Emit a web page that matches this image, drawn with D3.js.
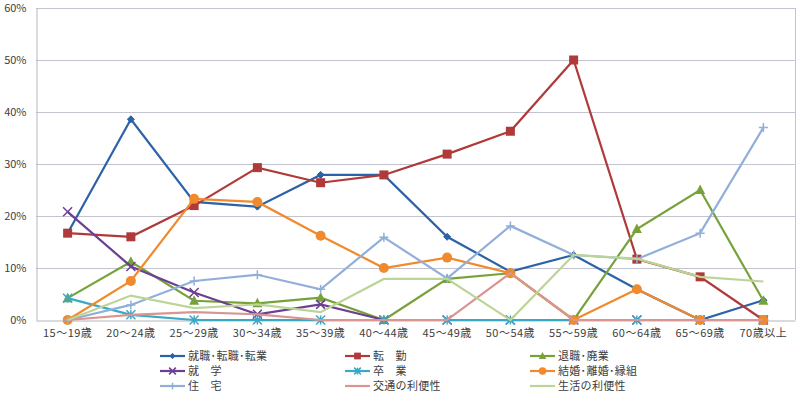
<!DOCTYPE html>
<html lang="ja">
<head>
<meta charset="UTF-8">
<title>移動理由別・年齢階級別割合</title>
<script src="https://d3js.org/d3.v7.min.js"></script>
<style>
  body { margin: 0; background: #fff; }
  svg text { font-family: "Noto Sans CJK JP", "Noto Sans", sans-serif; fill: #404040; }
  .grid line { stroke: #c4c4d0; stroke-width: 1; }
  .series path.line { fill: none; stroke-width: 2.2; }
</style>
</head>
<body>
<script>
  // categories
  const ages = ["15～19歳", "20～24歳", "25～29歳", "30～34歳", "35～39歳", "40～44歳",
    "45～49歳", "50～54歳", "55～59歳", "60～64歳", "65～69歳", "70歳以上"]
  const yTicks = [0, 10, 20, 30, 40, 50, 60]

  // series values (%)
  const shushoku = [16.7, 38.6, 22.7, 21.8, 27.9, 27.9, 16.0, 9.3, 12.5, 5.9, 0, 3.8]
  const tenkin = [16.7, 16.0, 22.0, 29.3, 26.4, 27.9, 31.9, 36.3, 50.0, 11.7, 8.3, 0]
  const taishoku = [4.2, 11.2, 3.7, 3.2, 4.3, 0, 7.9, 9.0, 0, 17.5, 25.0, 3.7]
  const shugaku = [20.8, 10.3, 5.3, 1.1, 3.0, 0, 0, 0, 0, 0, 0, 0]
  const sotsugyo = [4.2, 1.0, 0, 0, 0, 0, 0, 0, 0, 0, 0, 0]
  const kekkon = [0, 7.5, 23.3, 22.7, 16.2, 10.0, 12.0, 9.0, 0, 5.9, 0, 0]
  const jutaku = [0, 2.9, 7.5, 8.7, 5.9, 15.9, 8.0, 18.1, 12.5, 11.7, 16.7, 37.0]
  const kotsu = [0, 1.0, 1.5, 1.1, 0, 0, 0, 9.0, 0, 0, 0, 0]
  const seikatsu = [0, 4.7, 2.3, 3.0, 1.5, 7.9, 7.9, 0, 12.5, 11.8, 8.3, 7.4]

  const names = ["就職･転職･転業", "転　勤", "退職･廃業", "就　学", "卒　業",
    "結婚･離婚･縁組", "住　宅", "交通の利便性", "生活の利便性"]
  const colors = ["#2c62a6", "#b03a3a", "#77a23a", "#6c3f92", "#3aa9c6",
    "#f08a2c", "#91afd9", "#d99592", "#bcd597"]
  const markers = ["diamond", "square", "triangle", "x", "asterisk", "circle", "plus", null, null]

  const seriesList = [shushoku, tenkin, taishoku, shugaku, sotsugyo, kekkon, jutaku, kotsu, seikatsu]
    .map((values, i) => ({ name: names[i], color: colors[i], marker: markers[i], values }))

  const width = 800, height = 396
  const plot = { left: 36, right: 795, top: 8, bottom: 320 }

  const svg = d3.select("body").append("svg")
    .attr("width", width)
    .attr("height", height)

  const x = d3.scaleBand()
    .domain(ages)
    .range([plot.left, plot.right])

  const y = d3.scaleLinear()
    .domain([0, 60])
    .range([plot.bottom, plot.top])

  // grid lines
  svg.append("g").attr("class", "grid")
    .selectAll("line")
    .data(yTicks.filter(d => d > 0))
    .join("line")
    .attr("x1", plot.left)
    .attr("x2", plot.right)
    .attr("y1", d => Math.round(y(d)) + 0.5)
    .attr("y2", d => Math.round(y(d)) + 0.5)

  // right border of plot area
  svg.append("line")
    .attr("x1", plot.right + 0.5).attr("x2", plot.right + 0.5)
    .attr("y1", plot.top).attr("y2", plot.bottom)
    .attr("stroke", "#c4c4d0")

  // y axis
  const yAxis = svg.append("g")
    .attr("transform", `translate(${plot.left + 0.5},0)`)
    .call(d3.axisLeft(y).tickValues(yTicks).tickFormat(d => d + "%").tickSize(0).tickPadding(10))
  yAxis.select(".domain").attr("stroke", "#b4b4be")
  yAxis.selectAll("text").style("font-size", "11px").attr("fill", "#404040")

  // x axis
  const xAxis = svg.append("g")
    .attr("transform", `translate(0,${plot.bottom + 0.5})`)
    .call(d3.axisBottom(x).tickSize(0).tickPadding(9))
  xAxis.select(".domain").attr("stroke", "#b4b4be")
  xAxis.selectAll("text").style("font-size", "11px").style("letter-spacing", "0.5px").attr("fill", "#404040")

  const line = d3.line()
    .x((d, i) => x(ages[i]) + x.bandwidth() / 2)
    .y(d => y(d))

  function drawMarker(g, type, color, size) {
    const h = size / 2
    if (type === "diamond") {
      g.append("path").attr("d", `M0,${-h}L${h},0L0,${h}L${-h},0Z`)
        .attr("fill", color).attr("stroke", color)
    } else if (type === "square") {
      g.append("rect").attr("x", -h).attr("y", -h).attr("width", size).attr("height", size)
        .attr("fill", color)
    } else if (type === "triangle") {
      g.append("path").attr("d", `M0,${-h * 1.1}L${h},${h * 0.8}L${-h},${h * 0.8}Z`)
        .attr("fill", color)
    } else if (type === "circle") {
      g.append("circle").attr("r", h).attr("fill", color)
    } else if (type === "x") {
      g.append("path").attr("d", `M${-h},${-h}L${h},${h}M${-h},${h}L${h},${-h}`)
        .attr("stroke", color).attr("stroke-width", 1.5)
    } else if (type === "plus") {
      g.append("path").attr("d", `M${-h},0L${h},0M0,${-h}L0,${h}`)
        .attr("stroke", color).attr("stroke-width", 1.5)
    } else if (type === "asterisk") {
      g.append("path").attr("d", `M${-h},${-h}L${h},${h}M${-h},${h}L${h},${-h}M0,${-h}L0,${h}`)
        .attr("stroke", color).attr("stroke-width", 1.5)
    }
  }

  const markerSize = { diamond: 7, square: 9, triangle: 10, circle: 10, x: 9, asterisk: 9, plus: 9 }

  seriesList.forEach(s => {
    const g = svg.append("g").attr("class", "series")
    g.append("path")
      .attr("class", "line")
      .attr("d", line(s.values))
      .attr("stroke", s.color)
    if (s.marker) {
      s.values.forEach((v, i) => {
        const mg = g.append("g")
          .attr("transform", `translate(${x(ages[i]) + x.bandwidth() / 2},${y(v)})`)
        drawMarker(mg, s.marker, s.color, markerSize[s.marker])
      })
    }
  })

  // legend
  const legendCols = [160, 345, 530]
  const legendRows = [356, 371, 386]
  const legend = svg.append("g")
  seriesList.forEach((s, i) => {
    const lx = legendCols[i % 3], ly = legendRows[Math.floor(i / 3)]
    const lg = legend.append("g").attr("transform", `translate(${lx},${ly})`)
    lg.append("line").attr("x1", 0).attr("x2", 25).attr("y1", 0).attr("y2", 0)
      .attr("stroke", s.color).attr("stroke-width", 2.2)
    if (s.marker) {
      const mg = lg.append("g").attr("transform", "translate(12.5,0)")
      drawMarker(mg, s.marker, s.color, markerSize[s.marker] * 0.75)
    }
    lg.append("text")
      .attr("x", 28).attr("y", 0).attr("dy", "0.35em")
      .style("font-size", "11px")
      .style("letter-spacing", "0.3px")
      .text(s.name)
  })
</script>
</body>
</html>
